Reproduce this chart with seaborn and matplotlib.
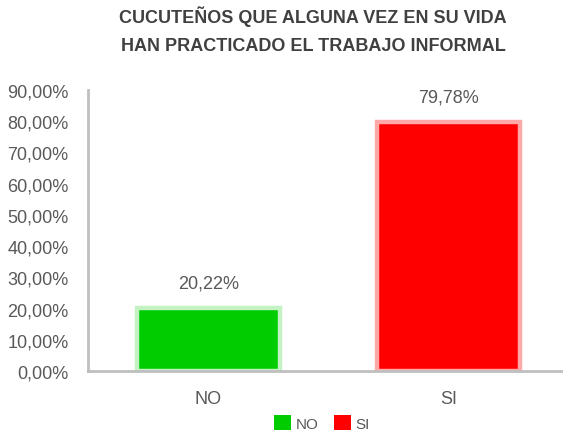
"""Gráfico de barras: trabajo informal en Cúcuta."""

import matplotlib

matplotlib.use("Agg")
import matplotlib.pyplot as plt
import pandas as pd
import seaborn as sns
from matplotlib.patches import Patch
from matplotlib.ticker import FuncFormatter, MultipleLocator

CATEGORIAS = ["NO", "SI"]
PORCENTAJES = [20.22, 79.78]
COLORES = ["#00CC00", "#FF0000"]
BORDES = ["#C4F2C4", "#FFA8A8"]
TITULO = "CUCUTEÑOS QUE ALGUNA VEZ EN SU VIDA\nHAN PRACTICADO EL TRABAJO INFORMAL"

TEXTO = "#595959"
EJE = "#BFBFBF"


def fmt_pct(v: float) -> str:
    return f"{v:.2f}%".replace(".", ",")


sns.set_theme(style="white")
plt.rcParams["font.family"] = ["Liberation Sans", "DejaVu Sans"]

df = pd.DataFrame({"Respuesta": CATEGORIAS, "Porcentaje": PORCENTAJES})

fig = plt.figure(figsize=(5.63, 4.35), dpi=100)
ax = fig.add_axes([0.1563, 0.1448, 0.854, 0.646])

sns.barplot(
    data=df,
    x="Respuesta",
    y="Porcentaje",
    hue="Respuesta",
    palette=COLORES,
    saturation=1,
    width=0.595,
    linewidth=3.2,
    legend=False,
    ax=ax,
)

for cont, borde in zip(ax.containers, BORDES):
    for patch in cont:
        patch.set_edgecolor(borde)
    ax.bar_label(
        cont,
        labels=[fmt_pct(p.get_height()) for p in cont],
        padding=12,
        fontsize=13,
        color=TEXTO,
    )

ax.set_ylim(0, 90)
ax.set_xlim(-0.5, 1.5)
ax.yaxis.set_major_locator(MultipleLocator(10))
ax.yaxis.set_major_formatter(FuncFormatter(lambda v, _: fmt_pct(v)))
ax.tick_params(axis="y", labelsize=13, colors=TEXTO, length=0, pad=14)
ax.tick_params(axis="x", labelsize=13, colors=TEXTO, length=0, pad=14)
ax.set_xlabel("")
ax.set_ylabel("")

for lado in ["top", "right"]:
    ax.spines[lado].set_visible(False)
for lado in ["left", "bottom"]:
    ax.spines[lado].set_color(EJE)
    ax.spines[lado].set_linewidth(2)
    ax.spines[lado].set_zorder(5)

fig.text(
    0.556, 0.985, TITULO,
    ha="center", va="top",
    fontsize=13, fontweight="bold", color="#404040",
    linespacing=1.85,
)

handles = [Patch(facecolor=c, edgecolor="none") for c in COLORES]
ax.legend(
    handles, CATEGORIAS,
    loc="center", bbox_to_anchor=(0.572, 0.025),
    bbox_transform=fig.transFigure,
    ncol=2, frameon=False, fontsize=11,
    handlelength=1.1, handleheight=1.1,
    handletextpad=0.3, columnspacing=1.0,
    labelcolor=TEXTO,
)

fig.savefig("out.png", dpi=100)
